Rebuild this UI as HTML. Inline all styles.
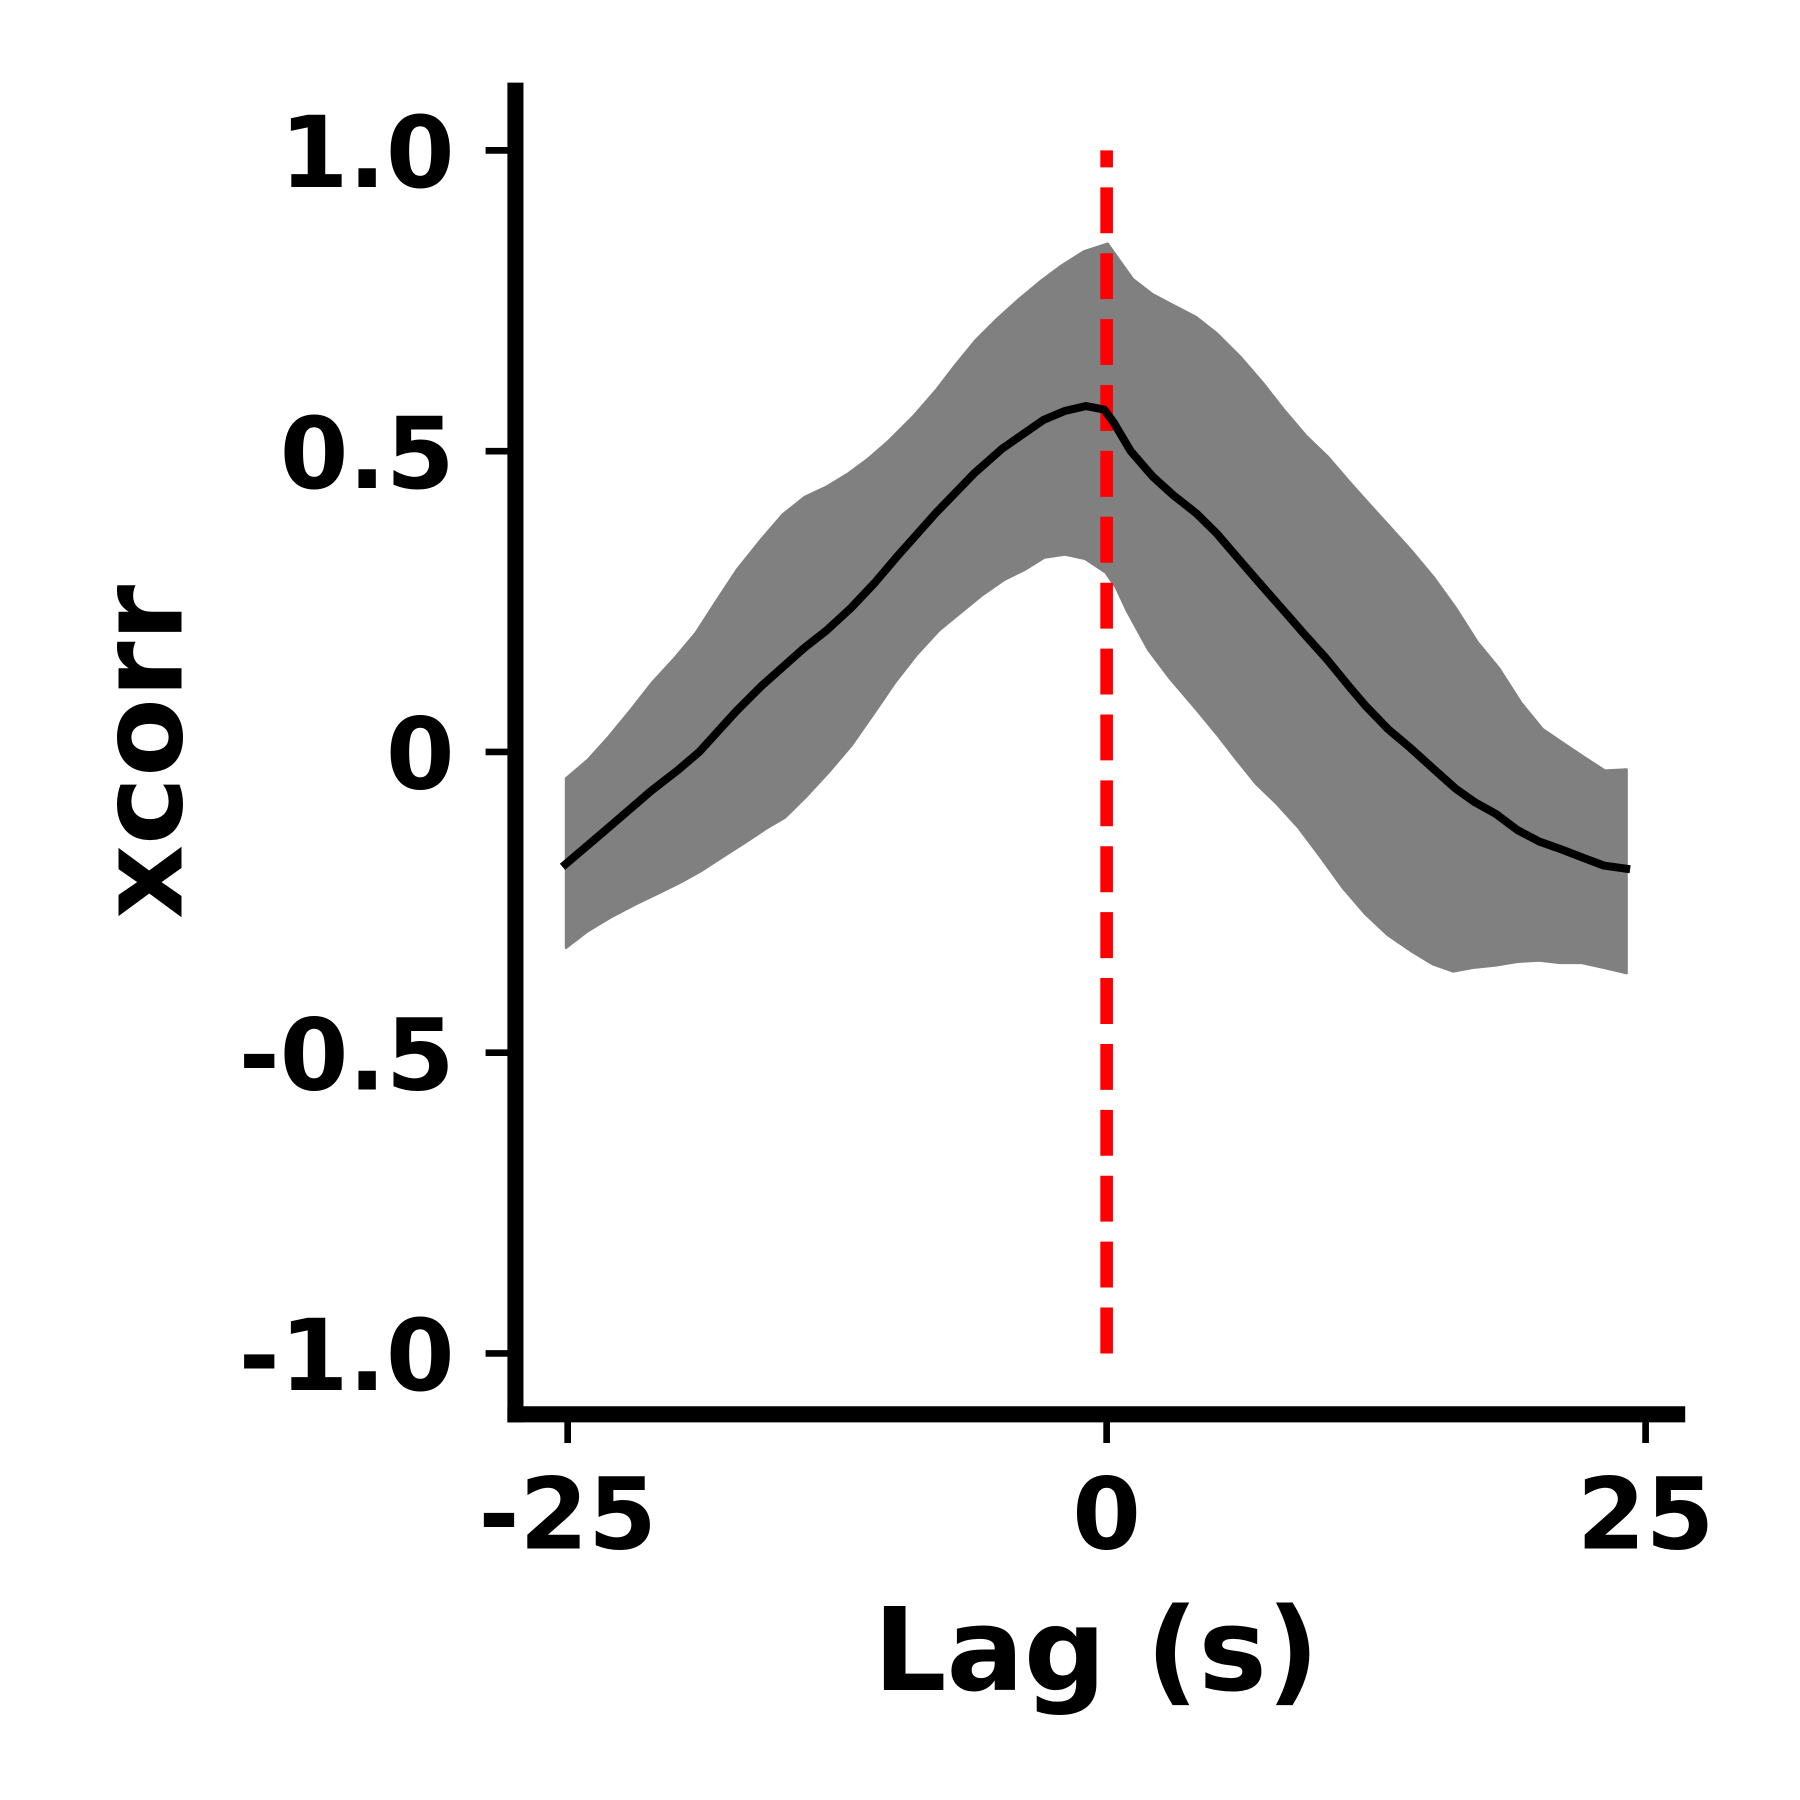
<!DOCTYPE html>
<html><head><meta charset="utf-8"><style>
html,body{margin:0;padding:0;background:#fff;}
svg{display:block;}
text{font-family:"DejaVu Sans","Liberation Sans",sans-serif;font-weight:bold;fill:#000;}
</style></head><body>
<svg id="chart" width="1800" height="1800" viewBox="0 0 1568 1568" xmlns="http://www.w3.org/2000/svg">
<g id="band"></g>
<g id="zero-line-g"></g>
<g id="meanline"></g>
<g id="axes"></g>
<text x="955" y="1472" font-size="100" text-anchor="middle">Lag (s)</text>
<text x="0" y="0" font-size="100" text-anchor="middle" transform="translate(158,655) rotate(-90)">xcorr</text>
</svg>
<script>
const meanLag=[-25.24,-23.11,-21.14,-19.91,-18.90,-17.20,-16.03,-14.06,-12.99,-11.87,-10.76,-9.74,-7.93,-6.12,-4.85,-2.93,-1.92,-0.96,-0.11,0.32,1.12,2.13,3.09,4.15,5.11,6.12,7.08,8.09,9.11,10.17,11.29,12.03,13.05,14.11,15.12,16.19,17.09,18.05,19.06,20.07,21.09,22.10,23.06,24.28];
const meanVal=[-0.191,-0.126,-0.065,-0.031,0,0.067,0.109,0.172,0.202,0.239,0.281,0.324,0.397,0.464,0.504,0.552,0.567,0.575,0.569,0.548,0.500,0.458,0.427,0.397,0.363,0.321,0.281,0.240,0.198,0.156,0.107,0.076,0.038,0.006,-0.027,-0.061,-0.084,-0.103,-0.130,-0.149,-0.162,-0.176,-0.189,-0.195];
const upperLag=[-25.08,-24.07,-23.11,-22.10,-21.09,-20.07,-19.06,-18.16,-17.15,-16.08,-15.02,-14.00,-12.99,-12.03,-11.08,-10.12,-9.00,-7.93,-7.03,-6.07,-5.11,-4.10,-3.09,-2.08,-1.06,0.05,1.22,2.13,3.14,4.15,5.11,6.23,7.24,8.25,9.27,10.28,11.29,12.19,13.15,14.16,15.18,16.19,17.20,18.21,19.22,20.23,21.25,22.26,23.11,24.12];
const upperVal=[-0.044,-0.013,0.025,0.069,0.115,0.155,0.198,0.248,0.303,0.351,0.395,0.424,0.441,0.462,0.487,0.517,0.557,0.601,0.643,0.685,0.719,0.752,0.782,0.809,0.832,0.845,0.786,0.761,0.742,0.723,0.696,0.656,0.614,0.568,0.525,0.490,0.448,0.412,0.374,0.334,0.290,0.240,0.183,0.139,0.082,0.038,0.013,-0.011,-0.031,-0.029];
const lowerLag=[-25.08,-24.07,-23.00,-21.88,-20.77,-19.81,-18.85,-17.78,-16.77,-15.81,-14.91,-13.90,-12.89,-11.82,-10.81,-9.80,-8.79,-7.77,-6.71,-5.75,-4.74,-3.78,-2.88,-1.92,-1.01,-0.05,0.43,0.96,1.92,2.93,4.15,5.11,6.02,6.92,7.88,8.89,9.90,10.97,11.98,13.05,14.16,15.12,16.08,16.99,18.05,19.06,20.07,21.03,22.04,23.06,24.12];
const lowerVal=[-0.326,-0.298,-0.275,-0.254,-0.235,-0.218,-0.199,-0.174,-0.151,-0.128,-0.109,-0.073,-0.034,0.011,0.063,0.116,0.162,0.202,0.233,0.261,0.286,0.303,0.323,0.328,0.321,0.298,0.273,0.233,0.170,0.122,0.071,0.029,-0.013,-0.053,-0.086,-0.126,-0.174,-0.227,-0.269,-0.305,-0.332,-0.353,-0.365,-0.359,-0.355,-0.349,-0.347,-0.351,-0.351,-0.359,-0.368];
const xTicks=[-25,0,25];
const xTickLabels=["-25","0","25"];
const yTicks=[1.0,0.5,0,-0.5,-1.0];
const yTickLabels=["1.0","0.5","0","-0.5","-1.0"];
const refLag=[0];

const NS="http://www.w3.org/2000/svg";
const X=v=>964+v*18.78;
const Y=v=>655-v*524;
function mk(tag,attrs,parent){const e=document.createElementNS(NS,tag);for(const k in attrs)e.setAttribute(k,attrs[k]);parent.appendChild(e);return e;}

const band=document.getElementById('band');
let d="M"+upperLag.map((l,i)=>X(l).toFixed(1)+","+Y(upperVal[i]).toFixed(1)).join("L");
for(let i=lowerLag.length-1;i>=0;i--)d+="L"+X(lowerLag[i]).toFixed(1)+","+Y(lowerVal[i]).toFixed(1);
d+="Z";
const bp=mk('path',{d:d,fill:'#808080',stroke:'#808080','stroke-width':2,'stroke-linejoin':'round'},band);



const zg=document.getElementById('zero-line-g');
refLag.forEach(l=>{
  const ln=mk('line',{x1:X(l),x2:X(l),y1:Y(-1),y2:Y(1),stroke:'#ff0000','stroke-width':11,'stroke-dasharray':'40 17.4'},zg);
  
  
});

const mg=document.getElementById('meanline');
const ml=mk('polyline',{points:meanLag.map((l,i)=>X(l).toFixed(1)+","+Y(meanVal[i]).toFixed(1)).join(" "),fill:'none',stroke:'#000','stroke-width':7,'stroke-linejoin':'round'},mg);



const ax=document.getElementById('axes');
const ya=mk('line',{x1:449,x2:449,y1:72,y2:1239,stroke:'#000','stroke-width':14},ax);


const xa=mk('line',{x1:442,x2:1468,y1:1232,y2:1232,stroke:'#000','stroke-width':14},ax);


yTicks.forEach((v,i)=>{
  const t=mk('line',{x1:423,x2:446,y1:Y(v),y2:Y(v),stroke:'#000','stroke-width':5.8},ax);
  
  
  const tx=mk('text',{x:396,y:Y(v)+32,'font-size':86,'text-anchor':'end'},ax);
  tx.textContent=yTickLabels[i];
  
  
});
xTicks.forEach((v,i)=>{
  const t=mk('line',{x1:X(v),x2:X(v),y1:1236,y2:1257,stroke:'#000','stroke-width':5.8},ax);
  
  
  const tx=mk('text',{x:X(v),y:1349,'font-size':86,'text-anchor':'middle'},ax);
  tx.textContent=xTickLabels[i];
  
  
});
</script>
</body></html>
